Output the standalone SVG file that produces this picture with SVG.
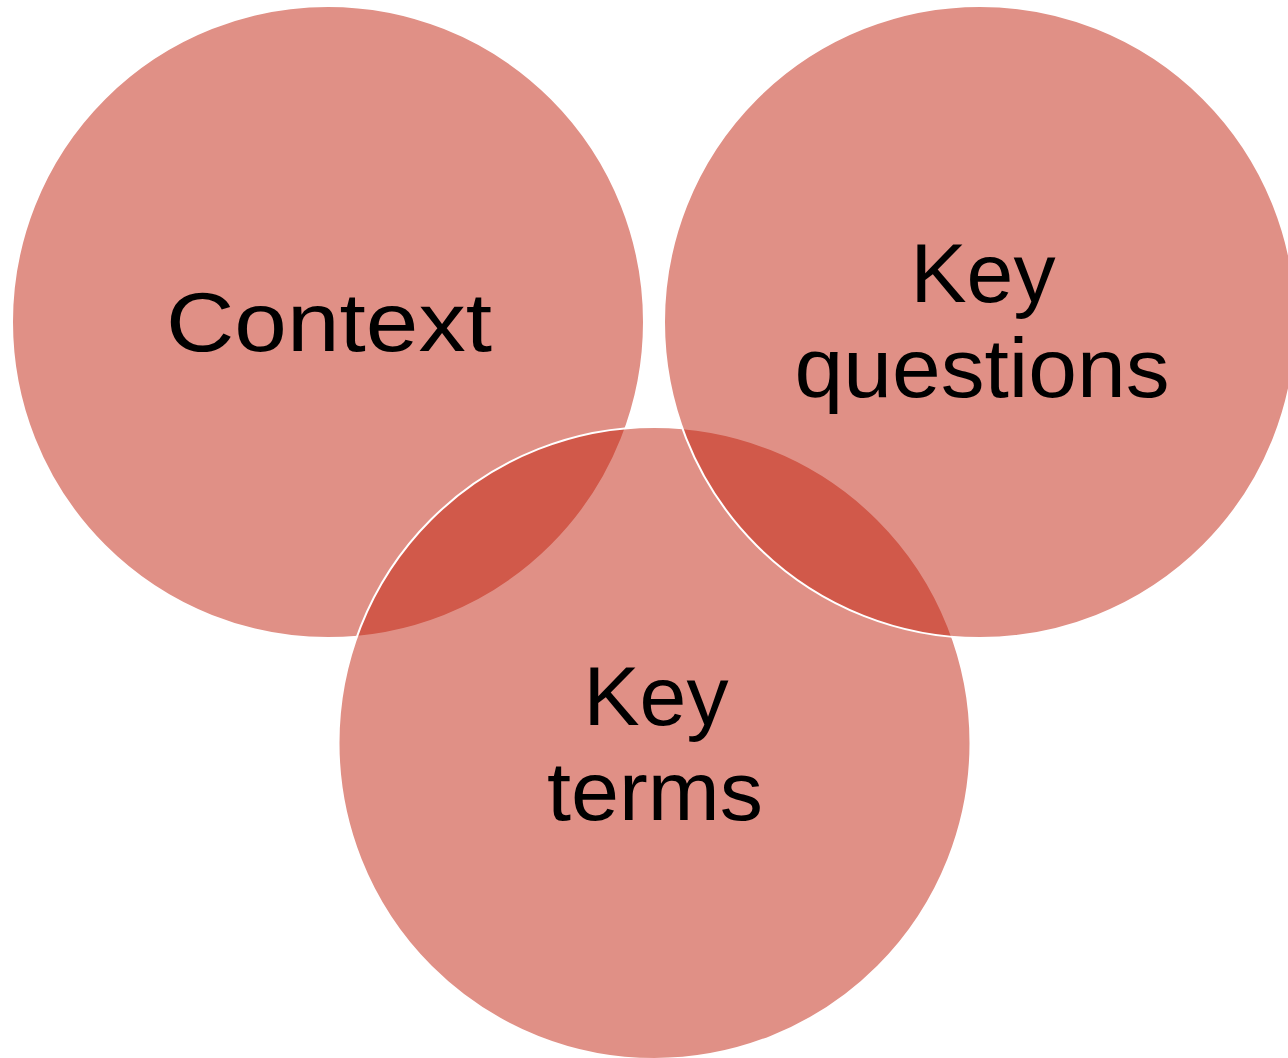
<svg xmlns="http://www.w3.org/2000/svg" width="1288" height="1058" viewBox="0 0 1288 1058">
  <style>
    .ring { fill: rgb(193,33,13); fill-opacity: 0.5; stroke: #ffffff; stroke-width: 2; }
    .label { font-family: "Liberation Sans", Arial, sans-serif; font-size: 84px; fill: #000000; text-anchor: middle; }
  </style>
  <rect width="1288" height="1058" fill="#ffffff"/>
  <!-- Venn circles: translucent fills darken where they overlap -->
  <g id="context">
    <circle class="ring" cx="328" cy="322" r="316"/>
    <text class="label" x="329" y="351" textLength="326" lengthAdjust="spacingAndGlyphs">Context</text>
  </g>
  <g id="key-terms">
    <circle class="ring" cx="654.5" cy="743" r="316"/>
    <text class="label" x="656" y="725" textLength="145" lengthAdjust="spacingAndGlyphs">Key</text>
    <text class="label" x="655" y="820" textLength="216" lengthAdjust="spacingAndGlyphs">terms</text>
  </g>
  <g id="key-questions">
    <circle class="ring" cx="980" cy="322" r="316"/>
    <text class="label" x="983" y="302" textLength="145" lengthAdjust="spacingAndGlyphs">Key</text>
    <text class="label" x="982" y="397" textLength="375" lengthAdjust="spacingAndGlyphs">questions</text>
  </g>
  <g id="connectors"/>
</svg>
